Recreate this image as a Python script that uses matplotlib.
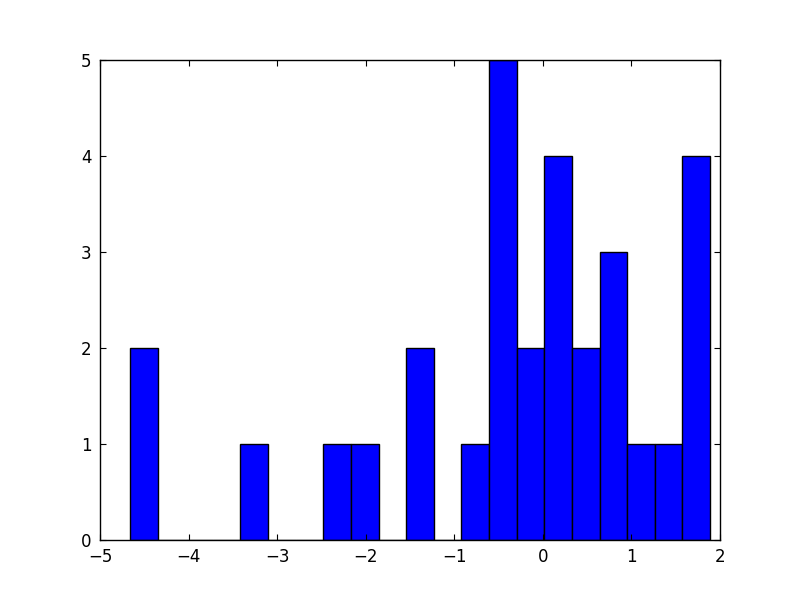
import numpy as np
import matplotlib
matplotlib.use('Agg')
import matplotlib.pyplot as plt

# histogram: 21 equal bins
x_min = -4.661
x_max = 1.887
counts = [2, 0, 0, 0, 1, 0, 0, 1, 1, 0, 2, 0, 1, 5, 2, 4, 2, 3, 1, 1, 4]

edges = np.linspace(x_min, x_max, len(counts) + 1)
centers = (edges[:-1] + edges[1:]) / 2

plt.rcParams['font.size'] = 12
fig = plt.figure(figsize=(8, 6), dpi=100)
ax = fig.add_axes([0.125, 0.1, 0.775, 0.8])
ax.hist(centers, bins=edges, weights=counts, color='#0000ff', edgecolor='black', linewidth=1.0)

ax.set_xlim(-5, 2)
ax.set_ylim(0, 5)
ax.set_xticks(range(-5, 3))
ax.set_yticks(range(0, 6))
ax.tick_params(direction='in', top=True, right=True, length=4, width=0.8, pad=6)
for s in ax.spines.values():
    s.set_linewidth(1.0)

fig.savefig('out.png', dpi=100, facecolor='white')
